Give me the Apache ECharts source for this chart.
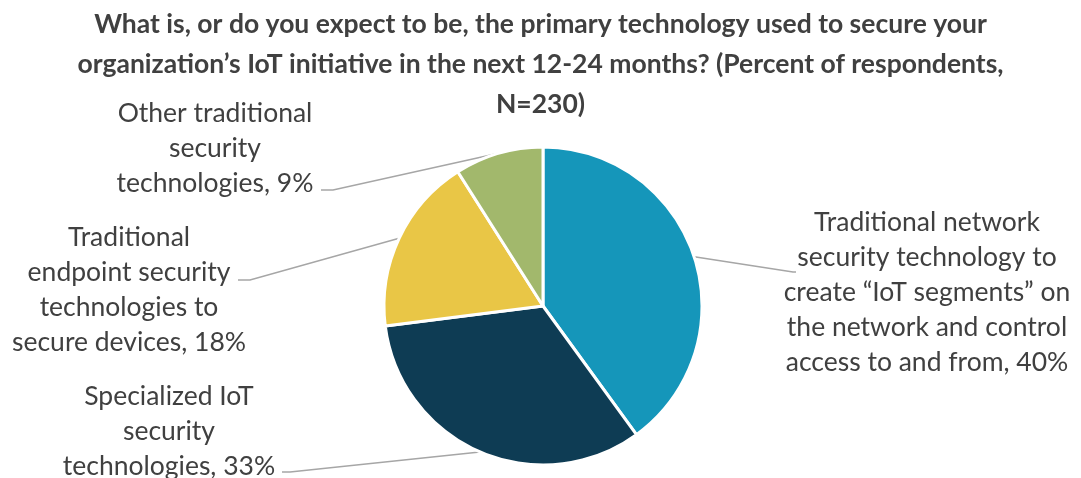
<!DOCTYPE html>
<html><head><meta charset="utf-8">
<script src="https://cdn.jsdelivr.net/npm/echarts@6/dist/echarts.min.js"></script>
<style>html,body{margin:0;padding:0;background:#fff}#c{width:1081px;height:478px}</style>
</head><body><div id="c"></div>
<script>
const titleText = "What is, or do you expect to be, the primary technology used to secure your\norganization’s IoT initiative in the next 12-24 months? (Percent of respondents,\nN=230)";
const categories = [
  "Traditional network security technology to create “IoT segments” on the network and control access to and from",
  "Specialized IoT security technologies",
  "Traditional endpoint security technologies to secure devices",
  "Other traditional security technologies"
];
const labelTexts = [
  "Traditional network\nsecurity technology to\ncreate “IoT segments” on\nthe network and control\naccess to and from",
  "Specialized IoT\nsecurity\ntechnologies",
  "Traditional\nendpoint security\ntechnologies to\nsecure devices",
  "Other traditional\nsecurity\ntechnologies"
];
const values = [40, 33, 18, 9];
const colors = ["#1596BA", "#0E3C54", "#E9C646", "#A2B86C"];
// label placement (text centres) and leader-line bends/ends
const labelCenters = [[927, 292], [169, 431], [129, 290], [215, 148]];
const lineEnds = [[[793, 272], [796, 272]], [[290, 472], [282, 472]], [[250, 280], [238, 280]], [[333, 190], [321, 190]]];

const chart = echarts.init(document.getElementById('c'));
const FONT = 'Lato';
chart.setOption({
  backgroundColor: '#fff',
  title: {
    text: titleText,
    left: 'center',
    top: -1,
    textStyle: { fontFamily: FONT, fontWeight: 'bold', fontSize: 26.5, lineHeight: 40, color: '#404040' }
  },
  series: [{
    type: 'pie',
    center: [543, 306],
    radius: 159,
    startAngle: 90,
    clockwise: true,
    avoidLabelOverlap: false,
    itemStyle: { borderColor: '#fff', borderWidth: 3 },
    label: {
      show: true,
      position: 'outside',
      fontFamily: FONT,
      fontSize: 26.5,
      lineHeight: 35,
      color: '#404040',
      align: 'center',
      formatter: p => labelTexts[p.dataIndex] + ', ' + p.value + '%'
    },
    labelLine: { show: true, length: 10, length2: 10, lineStyle: { color: '#A6A6A6', width: 1.5 } },
    labelLayout: function (params) {
      const i = params.dataIndex;
      const anchor = params.labelLinePoints ? params.labelLinePoints[0] : null;
      const out = {
        x: labelCenters[i][0], y: labelCenters[i][1],
        align: 'center', verticalAlign: 'middle'
      };
      if (anchor) out.labelLinePoints = [anchor, lineEnds[i][0], lineEnds[i][1]];
      return out;
    },
    emphasis: { disabled: true },
    data: categories.map((c, i) => ({ name: c, value: values[i], itemStyle: { color: colors[i] } }))
  }]
});
</script></body></html>
